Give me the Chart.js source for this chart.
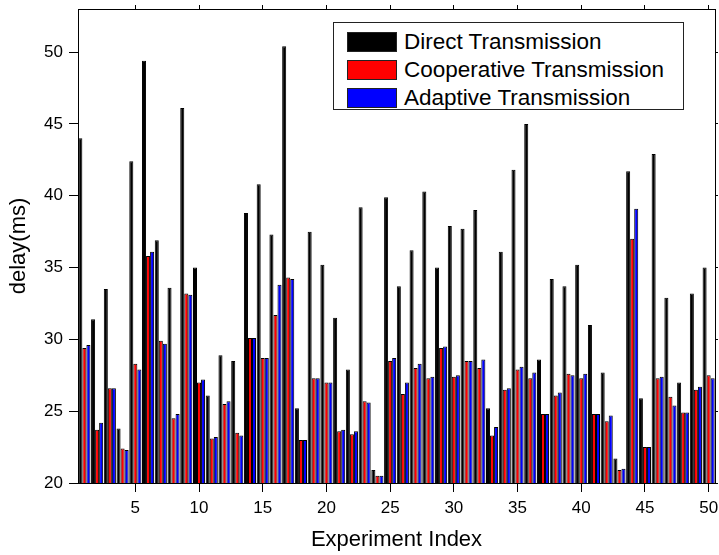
<!DOCTYPE html>
<html>
<head>
<meta charset="utf-8">
<title>delay</title>
<script src="https://cdn.jsdelivr.net/npm/chart.js@4.4.1/dist/chart.umd.min.js"></script>
<style>
  html, body { margin: 0; padding: 0; background: #fff; }
  #wrap { position: relative; width: 719px; height: 555px; }
  #legend {
    position: absolute; left: 333px; top: 22px; width: 351px; height: 88px;
    box-sizing: border-box; border: 1px solid #222; background: #fff;
    padding: 5px 0 0 13px;
    font-family: "Liberation Sans", Arial, sans-serif; font-size: 22.5px; color: #000;
  }
  #legend .row { display: flex; align-items: center; height: 28px; }
  #legend .sw { width: 48px; height: 18px; border: 1px solid #222; margin-right: 7px; }
</style>
</head>
<body>
<div id="wrap">
  <canvas id="chartCanvas" width="719" height="555"></canvas>
  <div id="legend"></div>
</div>
<script>
// app data
const experiments = Array.from({length: 50}, (_, i) => String(i + 1));

const directTimes = [44.0, 31.4, 33.5, 23.8, 42.4, 49.4, 36.9, 33.6, 46.1, 35.0,
  26.1, 28.9, 28.5, 38.8, 40.8, 37.3, 50.4, 25.2, 37.5, 35.2,
  31.5, 27.9, 39.2, 20.9, 39.9, 33.7, 36.2, 40.3, 35.0, 37.9,
  37.7, 39.0, 25.2, 36.1, 41.8, 45.0, 28.6, 34.2, 33.7, 35.2,
  31.0, 27.7, 21.7, 41.7, 25.9, 42.9, 32.9, 27.0, 33.2, 35.0];

const cooperativeTimes = [29.4, 23.7, 26.6, 22.4, 28.3, 35.8, 29.9, 24.5, 33.2, 27.0,
  23.1, 25.5, 23.5, 30.1, 28.7, 31.7, 34.3, 23.0, 27.3, 27.0,
  23.6, 23.4, 25.7, 20.5, 28.5, 26.2, 28.0, 27.3, 29.4, 27.4,
  28.5, 28.0, 23.3, 26.5, 27.9, 27.3, 24.8, 26.1, 27.6, 27.3,
  24.8, 24.3, 20.9, 37.0, 22.5, 27.3, 26.0, 24.9, 26.5, 27.5];

const adaptiveTimes = [29.6, 24.2, 26.6, 22.3, 27.9, 36.1, 29.7, 24.8, 33.1, 27.2,
  23.2, 25.7, 23.3, 30.1, 28.7, 33.8, 34.2, 23.0, 27.3, 27.0,
  23.7, 23.6, 25.6, 20.5, 28.7, 27.0, 28.3, 27.4, 29.5, 27.5,
  28.5, 28.6, 23.9, 26.6, 28.1, 27.7, 24.8, 26.3, 27.5, 27.6,
  24.8, 24.7, 21.0, 39.1, 22.5, 27.4, 25.4, 24.9, 26.7, 27.3];

const FONT = '"Liberation Sans", Arial, sans-serif';

function everyFifth(ctx) {
  return (ctx.index + 1) % 5 === 0 ? '#000' : 'rgba(0,0,0,0)';
}

// fixed box sizes so the plot frame lands where the figure has it
function fixSize(width, height) {
  return scale => {
    if (width !== null) scale.width = width;
    if (height !== null) scale.height = height;
    scale.paddingTop = 0;
    scale.paddingBottom = 0;
    scale.paddingLeft = 0;
    scale.paddingRight = 0;
  };
}

function makeDataset(label, values, color) {
  return {
    label: label,
    data: values,
    backgroundColor: color,
    borderColor: '#000',
    borderWidth: 1,
    borderSkipped: 'bottom',
    categoryPercentage: 0.95,
    barPercentage: 1.0,
  };
}

const data = {
  labels: experiments,
  datasets: [
    makeDataset('Direct Transmission', directTimes, '#000000'),
    makeDataset('Cooperative Transmission', cooperativeTimes, '#ff0000'),
    makeDataset('Adaptive Transmission', adaptiveTimes, '#0000ff'),
  ],
};

const config = {
  type: 'bar',
  data: data,
  options: {
    responsive: false,
    animation: false,
    layout: {padding: 0},
    plugins: {
      legend: {display: false},
      tooltip: {enabled: false},
    },
    scales: {
      x: {
        type: 'category',
        position: 'bottom',
        offset: true,
        afterFit: fixSize(null, 72),
        border: {display: true, color: '#000', width: 1},
        grid: {
          offset: false,
          drawOnChartArea: false,
          tickLength: 9,
          color: everyFifth,
        },
        ticks: {
          autoSkip: false,
          maxRotation: 0,
          padding: 6,
          color: '#000',
          font: {family: FONT, size: 17},
          callback: function (value, index) {
            return (index + 1) % 5 === 0 ? this.getLabelForValue(value) : '';
          },
        },
        title: {
          display: true,
          text: 'Experiment Index',
          color: '#000',
          font: {family: FONT, size: 22},
          padding: {top: 0, bottom: 2},
        },
      },
      xTop: {
        type: 'category',
        position: 'top',
        labels: experiments,
        offset: true,
        afterFit: fixSize(null, 9),
        border: {display: true, color: '#000', width: 1},
        grid: {offset: false, drawOnChartArea: false, tickLength: 4, color: everyFifth},
        ticks: {display: false},
      },
      y: {
        type: 'linear',
        position: 'left',
        min: 20,
        max: 53,
        afterFit: fixSize(78, null),
        border: {display: true, color: '#000', width: 1},
        grid: {drawOnChartArea: false, tickLength: 9, color: '#000'},
        ticks: {
          stepSize: 5,
          includeBounds: false,
          padding: 6,
          color: '#000',
          font: {family: FONT, size: 17},
        },
        title: {
          display: true,
          text: 'delay(ms)',
          color: '#000',
          font: {family: FONT, size: 22},
          padding: {top: 6, bottom: 0},
        },
      },
      yRight: {
        type: 'linear',
        position: 'right',
        min: 20,
        max: 53,
        afterFit: fixSize(4, null),
        border: {display: true, color: '#000', width: 1},
        grid: {drawOnChartArea: false, tickLength: 3, color: '#000'},
        ticks: {stepSize: 5, includeBounds: false, display: false},
      },
    },
  },
};

const ctx = document.getElementById('chartCanvas').getContext('2d');
const chartInstance = new Chart(ctx, config);

// legend box drawn from the datasets
function renderLegend() {
  const box = document.getElementById('legend');
  box.innerHTML = '';
  chartInstance.data.datasets.forEach(ds => {
    const row = document.createElement('div');
    row.className = 'row';
    row.innerHTML = `<span class="sw" style="background:${ds.backgroundColor}"></span><span>${ds.label}</span>`;
    box.appendChild(row);
  });
}

renderLegend();
</script>
</body>
</html>
